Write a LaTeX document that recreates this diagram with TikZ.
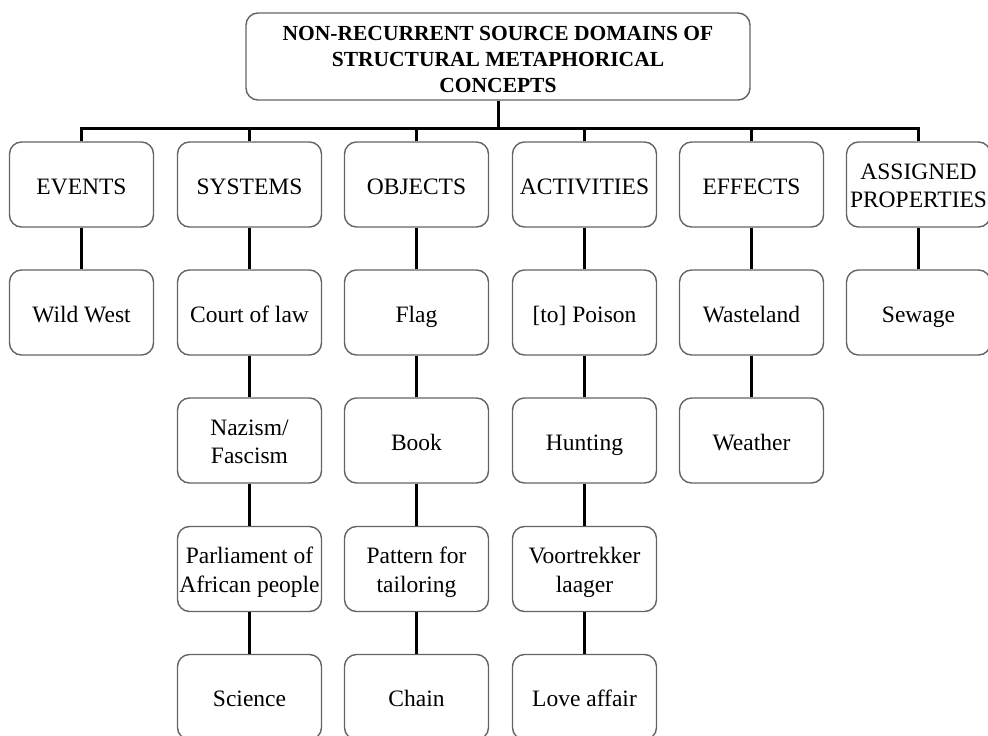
\documentclass[tikz,border=0pt]{standalone}
\usepackage{fontspec}
\setmainfont{Liberation Serif}
\definecolor{boxgray}{RGB}{100,100,100}
\begin{document}
\begin{tikzpicture}[x=1pt,y=-1pt,
  box/.style={draw=boxgray, line width=1.4pt, rounded corners=12pt,
    minimum width=144pt, minimum height=85pt, align=center, inner sep=0pt,
    font=\fontsize{23.5}{28.5}\selectfont,
    text height=23.5pt, text depth=4pt},
  twoline/.style={box, text height=50pt},
  titlebox/.style={box, minimum width=504pt, minimum height=87pt,
    font=\fontsize{21.5}{26}\selectfont\bfseries,
    text height=74pt, text depth=3pt},
  conn/.style={line width=3pt, black}]
\useasboundingbox (0,0) rectangle (988,736);

% root
\node[titlebox] (root) at (498,56.5) {NON-RECURRENT SOURCE DOMAINS OF\\STRUCTURAL METAPHORICAL\\CONCEPTS};
\coordinate (bar) at (498,128.5);

% column heads
\node[box] (events)     at (81.5,184.5)  {EVENTS};
\node[box] (systems)    at (249.5,184.5) {SYSTEMS};
\node[box] (objects)    at (416.5,184.5) {OBJECTS};
\node[box] (activities) at (584.5,184.5) {ACTIVITIES};
\node[box] (effects)    at (751.5,184.5) {EFFECTS};
\node[twoline] (assigned) at (918.5,184.5) {ASSIGNED\\PROPERTIES};

% EVENTS
\node[box] (wildwest) at (81.5,312.5) {Wild West};

% SYSTEMS
\node[box] (court)          at (249.5,312.5) {Court of law};
\node[twoline] (nazism)     at (249.5,440.5) {Nazism/\\Fascism};
\node[twoline] (parliament) at (249.5,569)   {Parliament of\\African people};
\node[box] (science)        at (249.5,697)   {Science};

% OBJECTS
\node[box] (flag)        at (416.5,312.5) {Flag};
\node[box] (book)        at (416.5,440.5) {Book};
\node[twoline] (pattern) at (416.5,569)   {Pattern for\\tailoring};
\node[box] (chain)       at (416.5,697)   {Chain};

% ACTIVITIES
\node[box] (poison)          at (584.5,312.5) {[to] Poison};
\node[box] (hunting)         at (584.5,440.5) {Hunting};
\node[twoline] (voortrekker) at (584.5,569)   {Voortrekker\\laager};
\node[box] (love)            at (584.5,697)   {Love affair};

% EFFECTS
\node[box] (wasteland) at (751.5,312.5) {Wasteland};
\node[box] (weather)   at (751.5,440.5) {Weather};

% ASSIGNED PROPERTIES
\node[box] (sewage) at (918.5,312.5) {Sewage};

% connectors
\draw[conn] (root.south) -- (root.south |- bar);
\draw[conn] (events.north) |- (assigned.north |- bar) -- (assigned.north);
\foreach \h in {systems,objects,activities,effects}
  \draw[conn] (\h.north) -- (\h.north |- bar);

\draw[conn] (events.south) -- (wildwest.north);
\draw[conn] (systems.south) -- (court.north);
\draw[conn] (court.south) -- (nazism.north);
\draw[conn] (nazism.south) -- (parliament.north);
\draw[conn] (parliament.south) -- (science.north);
\draw[conn] (objects.south) -- (flag.north);
\draw[conn] (flag.south) -- (book.north);
\draw[conn] (book.south) -- (pattern.north);
\draw[conn] (pattern.south) -- (chain.north);
\draw[conn] (activities.south) -- (poison.north);
\draw[conn] (poison.south) -- (hunting.north);
\draw[conn] (hunting.south) -- (voortrekker.north);
\draw[conn] (voortrekker.south) -- (love.north);
\draw[conn] (effects.south) -- (wasteland.north);
\draw[conn] (wasteland.south) -- (weather.north);
\draw[conn] (assigned.south) -- (sewage.north);
\end{tikzpicture}
\end{document}
